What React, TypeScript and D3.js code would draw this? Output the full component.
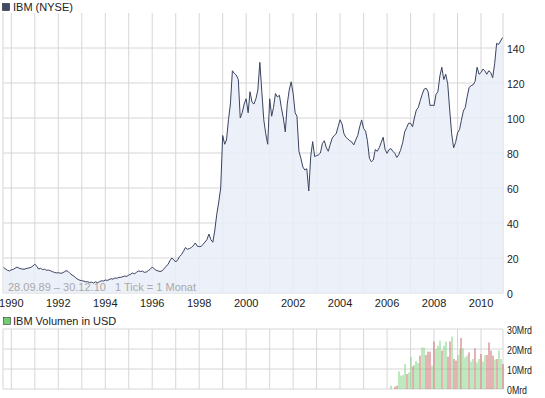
import React from "react";
import * as d3 from "d3";

// Monthly closing prices, starting September 1989 (one value per month)
const START = { year: 1989, month: 8 };
const price: number[] = [
  14.5, 13.8, 13.0, 12.6, 13.2, 13.5, 14.2, 14.8, 14.2, 13.8,
  13.6, 13.7, 14.1, 14.3, 14.6, 15.4, 16.5, 15.2, 13.7, 14.1,
  13.4, 13.6, 13.0, 13.1, 12.7, 12.2, 11.8, 11.5, 11.6, 11.3,
  11.4, 12.0, 12.8, 12.3, 11.2, 10.3, 9.6, 8.6, 7.8, 7.3,
  7.0, 6.8, 6.4, 6.5, 6.0, 6.2, 5.7, 6.4, 5.9, 6.4,
  7.0, 6.8, 7.4, 7.2, 7.6, 8.2, 7.9, 8.6, 8.4, 8.9,
  9.0, 9.3, 9.7, 9.5, 10.2, 10.8, 11.4, 11.0, 11.8, 12.6,
  12.3, 12.5, 11.8, 12.0, 12.8, 13.6, 14.8, 13.8, 13.0, 12.6,
  12.3, 12.6, 13.8, 15.2, 16.2, 18.4, 20.0, 19.0, 17.7, 19.0,
  20.8, 22.0, 23.8, 26.0, 25.0, 25.4, 26.0, 27.0, 28.6, 26.8,
  26.5, 26.6, 27.8, 29.1, 30.5, 33.7, 30.5, 29, 36, 45,
  52, 60, 90, 85, 87.4, 99, 108, 127, 125.5, 124.5,
  122, 100, 103, 108, 111, 103, 115, 109, 108, 111,
  116, 131.8, 115, 99, 91, 85, 111, 101, 106, 114,
  112, 113, 106, 100, 92, 108, 116, 120.7, 114, 103,
  101, 81, 77, 72, 70.3, 71, 58.3, 78, 86.5, 78,
  78.5, 79, 80, 85.5, 87, 83, 81, 85, 88.5, 90,
  91, 95, 99, 96.5, 91, 89, 88, 87, 86.3, 84.6,
  87.5, 90, 95, 98.9, 94, 92.5, 87, 77, 75, 76,
  82, 81, 83, 86, 89, 82, 79.8, 82, 82.5, 81,
  79.8, 77.5, 79, 82, 86, 92, 94.5, 97, 97, 95,
  100, 104.6, 106, 110, 113.5, 116.5, 117, 115, 107, 107.4,
  107, 113.5, 115, 124, 129, 122, 125, 119.5, 104.6, 91,
  83, 86, 91.5, 93.5, 98.5, 104, 106, 112.5, 117.5, 118.5,
  119, 121, 129, 125, 126, 128, 127, 125, 127, 126,
  123, 131, 142.7, 142, 144, 146,
];

// Monthly volume in Mrd USD, starting March 2006 (month index 198)
const VOLUME_START_INDEX = 198;
const volume: number[] = [
  1.7, 0, 1.2, 1.7, 8.8, 6.7, 7, 12.5, 7.5, 8.3,
  16, 11.3, 12, 14, 13, 16.7, 20.7, 20.7, 17, 18.7,
  18.7, 11.7, 23.8, 20, 21.7, 24.2, 19.2, 21.7, 23.7, 16.2,
  23.8, 26.2, 15, 14.2, 17, 19.7, 25.5, 20.3, 15.8, 16.7,
  18.3, 13.7, 15, 20.3, 13.3, 15, 17.5, 13.7, 17, 17,
  23.3, 19.2, 16.7, 14.7, 15, 19.2, 15, 12.5,
];
// direction of each volume month: u = up (green), d = down (red)
const volumeDir: string[] = (
  "uudduuuuduuduuuduudddudu" +
  "uuduuddudduudu" +
  "uuduuduuduudddduduudu"
).split("");

const yearGrid = d3.range(1990, 2011);
const yearLabels = [1990, 1992, 1994, 1996, 1998, 2000, 2002, 2004, 2006, 2008, 2010];
const priceTicks = [0, 20, 40, 60, 80, 100, 120, 140];
const volumeTicks = [0, 10, 20, 30];
const titleMain = "IBM (NYSE)";
const titleVolume = "IBM Volumen in USD";
const rangeNote = "28.09.89 \u2013 30.12.10";
const tickNote = "1 Tick = 1 Monat";

const FONT = "'Liberation Sans', Arial, sans-serif";
const GRID = "#d6d6d6";

const monthDate = (i: number) => new Date(START.year, START.month + i, 1);

export default function App() {
  const left = 3, right = 503;
  const x = d3
    .scaleTime()
    .domain([monthDate(0), monthDate(price.length - 1)])
    .range([3.5, 502.5]);
  const y = d3.scaleLinear().domain([0, 160]).range([293, 13]);
  const yv = d3.scaleLinear().domain([0, 30]).range([389, 329]);

  const pts = price.map((v, i) => ({ d: monthDate(i), v }));
  const line = d3
    .line<{ d: Date; v: number }>()
    .x((p) => x(p.d))
    .y((p) => y(p.v));
  const area = d3
    .area<{ d: Date; v: number }>()
    .x((p) => x(p.d))
    .y0(y(0))
    .y1((p) => y(p.v));

  const yearX = (yr: number) => x(new Date(yr, 0, 1));

  return (
    <svg
      width={545}
      height={398}
      style={{ position: "absolute", left: 0, top: 0, background: "#fff" }}
      fontFamily={FONT}
    >
      <rect x={0} y={0} width={545} height={398} fill="#fff" />
      {/* Main panel title */}
      <rect x={2.5} y={3.5} width={7} height={7} fill="#3f4a6c" stroke="#222" strokeWidth={0.6} />
      <text x={13} y={11} fontSize={11} fill="#222">{titleMain}</text>

      {/* main grid */}
      {yearGrid.map((yr) => (
        <line key={"vg" + yr} x1={yearX(yr)} x2={yearX(yr)} y1={13} y2={293} stroke={GRID} />
      ))}
      {priceTicks.map((t) => (
        <line key={"hg" + t} x1={left} x2={right} y1={y(t)} y2={y(t)} stroke={GRID} />
      ))}
      <line x1={left} x2={left} y1={13} y2={293} stroke={GRID} />
      <line x1={right} x2={right} y1={13} y2={293} stroke={GRID} />

      {/* area + line */}
      <path d={area(pts) || ""} fill="#e9edf8" fillOpacity={0.85} />
      <path d={line(pts) || ""} fill="none" stroke="#3a4461" strokeWidth={1} />

      <text x={8} y={291} fontSize={11} fill="#a9a9a9">
        {rangeNote + "\u00a0\u00a0\u00a0" + tickNote}
      </text>

      {/* y labels */}
      {priceTicks.map((t) => (
        <text key={"yl" + t} x={507} y={y(t) + 4.5} fontSize={10.5} fill="#222">{t}</text>
      ))}
      {/* x labels */}
      {yearLabels.map((yr) => (
        <text key={"xl" + yr} x={yearX(yr)} y={307} fontSize={11} textAnchor="middle" fill="#222">
          {yr}
        </text>
      ))}

      {/* Volume panel */}
      <rect x={3.5} y={317.5} width={7} height={7} fill="#6fcf6f" stroke="#333" strokeWidth={0.6} />
      <text x={13} y={325} fontSize={11} fill="#222">{titleVolume}</text>
      {yearGrid.map((yr) => (
        <line key={"vvg" + yr} x1={yearX(yr)} x2={yearX(yr)} y1={329} y2={389} stroke={GRID} />
      ))}
      {volumeTicks.map((t) => (
        <line key={"vhg" + t} x1={left} x2={right} y1={yv(t)} y2={yv(t)} stroke={GRID} />
      ))}
      <line x1={left} x2={left} y1={329} y2={389} stroke={GRID} />
      <line x1={right} x2={right} y1={329} y2={389} stroke={GRID} />
      {volume.map((v, i) =>
        v > 0 ? (
          <rect
            key={"vb" + i}
            x={Math.round(x(monthDate(VOLUME_START_INDEX + i))) - 0.5}
            y={yv(v)}
            width={1}
            height={yv(0) - yv(v)}
            fill={volumeDir[i] === "d" ? "#c96a6a" : "#7fd27f"}
          />
        ) : null
      )}
      {volumeTicks.map((t) => (
        <text key={"vl" + t} x={507} y={yv(t) + 5} fontSize={10.5} fill="#222" textLength={t === 0 ? 20 : 25} lengthAdjust="spacingAndGlyphs">
          {t + "Mrd"}
        </text>
      ))}
    </svg>
  );
}
